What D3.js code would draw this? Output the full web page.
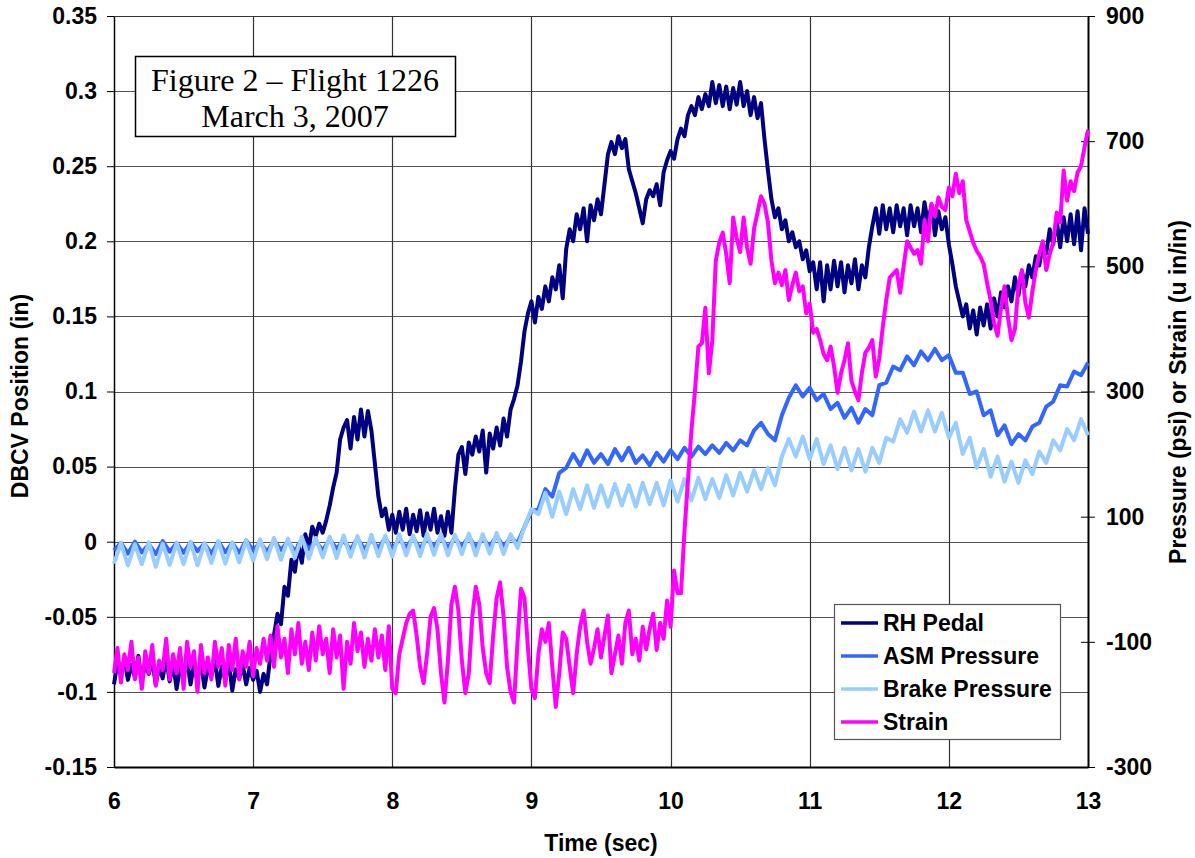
<!DOCTYPE html>
<html lang="en">
<head>
<meta charset="UTF-8">
<title>Figure 2 - Flight 1226</title>
<script src="https://d3js.org/d3.v7.min.js"></script>
<style>
body { margin: 0; background: #fff; }
.axis text { font-family: "Liberation Sans", Arial, sans-serif; font-weight: bold; font-size: 23px; fill: #000; }
.axis path, .axis line { stroke: #000; }
.label { font-family: "Liberation Sans", Arial, sans-serif; font-weight: bold; font-size: 23px; fill: #000; }
</style>
</head>
<body>
<div id="chart"></div>
<script>
// time axis 6..13 s; every series below is sampled evenly over that span
var timeTicks = [6, 7, 8, 9, 10, 11, 12, 13];
var leftTicks = [-0.15, -0.1, -0.05, 0, 0.05, 0.1, 0.15, 0.2, 0.25, 0.3, 0.35];
var rightTicks = [-300, -100, 100, 300, 500, 700, 900];

// RH Pedal, DBCV position (in), left axis
var rhPedal = [
  -0.095,-0.080,-0.088,-0.078,-0.092,-0.082,-0.090,-0.076,-0.094,-0.080,
  -0.088,-0.079,-0.095,-0.083,-0.091,-0.077,-0.093,-0.081,-0.098,-0.084,
  -0.090,-0.078,-0.095,-0.082,-0.091,-0.080,-0.097,-0.084,-0.089,-0.079,
  -0.096,-0.083,-0.092,-0.080,-0.099,-0.085,-0.091,-0.082,-0.095,-0.084,
  -0.092,-0.086,-0.100,-0.088,-0.095,
  -0.075,-0.062,-0.048,-0.055,-0.030,-0.036,-0.012,-0.020,-0.002,-0.014,
  0.005,-0.004,0.010,0.004,0.012,0.006,0.014,0.024,0.036,0.046,
  0.068,0.076,0.081,0.062,0.083,0.068,0.088,0.070,0.087,0.074,
  0.052,0.030,0.017,0.022,0.008,0.018,
  0.006,0.020,0.008,0.022,0.005,0.018,0.007,0.021,0.004,0.019,
  0.008,0.022,0.006,0.017,0.004,0.020,0.006,
  0.035,0.058,0.063,0.045,0.066,0.058,0.070,0.060,0.074,0.046,
  0.072,0.062,0.076,0.064,0.082,0.070,0.088,0.095,0.104,0.120,
  0.140,0.152,0.160,0.146,0.163,0.155,0.170,0.160,0.176,0.168,
  0.184,0.162,0.195,0.208,0.200,0.218,0.208,0.222,0.200,0.224,
  0.214,0.228,0.218,0.238,0.258,0.266,0.258,0.270,0.262,0.268,
  0.248,0.240,0.232,0.222,0.212,0.228,0.234,0.230,0.238,0.224,
  0.246,0.254,0.260,0.255,0.268,0.275,0.270,0.284,0.290,0.284,
  0.296,0.288,0.298,0.290,0.306,0.292,0.304,0.290,0.303,0.288,
  0.302,0.291,0.306,0.290,0.300,0.284,0.296,0.282,0.292,0.268,
  0.247,0.228,0.216,0.222,0.208,0.214,0.200,0.206,0.196,0.200,
  0.188,0.194,0.180,0.186,0.168,0.186,0.160,0.184,0.168,0.187,
  0.170,0.186,0.166,0.184,0.172,0.188,0.168,0.184,0.176,0.196,
  0.210,0.222,0.205,0.224,0.208,0.222,0.206,0.224,0.210,0.222,
  0.204,0.224,0.210,0.222,0.206,0.226,0.212,0.224,0.204,0.220,
  0.208,0.216,0.198,0.185,0.170,0.160,0.150,0.158,0.142,0.154,
  0.138,0.156,0.144,0.158,0.142,0.162,0.150,0.166,0.156,0.170,
  0.160,0.176,0.164,0.180,0.170,0.184,0.176,0.190,0.184,0.198,
  0.192,0.208,0.198,0.214,0.196,0.216,0.200,0.218,0.198,0.220,
  0.194,0.222,0.205
];

// ASM Pressure (psi), right axis
var asmPressure = [
  46,58,41,60,43,56,40,61,44,58,
  42,59,45,57,41,60,43,58,42,62,
  46,59,44,62,47,60,45,63,48,61,
  46,64,49,62,47,65,48,63,50,66,
  48,64,51,66,49,65,52,67,50,66,
  52,68,51,65,53,69,52,67,58,
  84,108,112,144,132,170,178,200,182,206,
  186,200,184,208,190,210,186,198,182,202,
  188,206,192,210,196,212,200,214,202,218,
  206,222,214,238,250,232,222,262,290,310,
  292,306,286,296,272,282,258,274,250,272,
  262,310,314,340,334,356,342,364,350,368,
  350,358,330,330,296,300,262,270,230,246,
  216,232,222,244,250,276,284,310,308,332,
  326,346
];

// Brake Pressure (psi), right axis
var brakePressure = [
  25,58,22,56,24,59,20,57,23,58,
  24,60,22,58,26,61,25,59,27,62,
  30,64,32,66,31,65,34,68,33,66,
  35,68,34,70,36,69,35,71,37,70,
  36,72,38,70,37,73,39,72,38,71,
  40,73,38,72,41,74,40,72,50,
  84,112,104,138,100,140,104,144,112,150,
  114,150,116,152,118,150,116,154,120,154,
  118,158,124,160,126,162,128,160,130,166,
  134,170,140,174,144,178,150,196,224,196,
  228,192,224,184,214,176,210,174,208,172,
  210,186,226,220,256,234,268,236,270,236,
  266,226,250,200,226,178,208,164,196,156,
  188,154,190,168,204,186,222,206,240,222,
  256,230
];

// Strain (u in/in), right axis
var strain = [
  -150,-110,-165,-120,-145,-100,-160,-125,-175,-115,
  -150,-105,-170,-130,-145,-95,-160,-120,-150,-110,
  -175,-100,-140,-115,-180,-105,-150,-125,-160,-100,
  -140,-110,-170,-105,-145,-95,-160,-115,-140,-100,
  -155,-110,-135,-95,-130,
  -90,-140,-75,-125,-95,-150,-80,-120,-70,-135,
  -100,-145,-85,-130,-75,-120,-95,-150,-80,-125,
  -90,-175,-100,-135,-70,-115,-85,-140,-95,-130,
  -80,-125,-90,-145,-75,
  -175,-182,-120,-95,-70,-55,-50,-90,-140,-166,
  -120,-60,-46,-80,-150,-197,-130,-40,-12,-50,
  -130,-182,-150,-60,-12,-40,-110,-150,-166,-90,
  -30,-5,-60,-140,-180,-197,-100,-15,-30,-110,
  -175,-190,-120,-80,-100,-70,-140,-204,-150,
  -85,-95,-140,-182,-120,-75,-50,-100,-135,-110,
  -80,-125,-90,-58,-150,-120,-90,-135,-70,-50,
  -120,-95,-130,-76,-112,-79,-55,-113,-70,-95,
  -34,-76,14,-22,-22,77,158,238,300,372,
  377,434,329,382,509,538,554,520,473,578,
  545,523,578,530,504,560,586,612,600,570,
  509,473,490,470,494,446,470,490,460,468,
  425,440,394,400,382,360,350,372,340,298,
  329,350,377,317,300,286,330,362,370,382,
  324,353,403,446,482,488,494,458,500,540,
  530,520,526,504,574,540,600,580,610,595,
  590,626,612,648,617,636,574,556,538,525,
  516,504,473,446,410,389,434,468,418,382,
  400,470,494,442,418,460,494,520,540,494,
  520,538,586,570,653,605,636,620,650,660,
  690,718
];

var seriesNames = ["RH Pedal", "ASM Pressure", "Brake Pressure", "Strain"];
var seriesColors = ["#000080", "#3366ff", "#99ccff", "#ff00ff"];

var W = 1195, H = 858;
var plot = {left: 114, right: 1088, top: 16, bottom: 767};

var svg = d3.select("#chart").append("svg")
  .attr("width", W).attr("height", H);

var x = d3.scaleLinear().domain([6, 13]).range([plot.left, plot.right]);
var yL = d3.scaleLinear().domain([-0.15, 0.35]).range([plot.bottom, plot.top]);
var yR = d3.scaleLinear().domain([-300, 900]).range([plot.bottom, plot.top]);

// gridlines
svg.append("g").selectAll("line").data(leftTicks).enter().append("line")
  .attr("x1", plot.left).attr("x2", plot.right)
  .attr("y1", function(d) { return Math.round(yL(d)) + 0.5; })
  .attr("y2", function(d) { return Math.round(yL(d)) + 0.5; })
  .style("stroke", "#555").style("stroke-width", 1.2);
svg.append("g").selectAll("line").data(timeTicks.slice(1, -1)).enter().append("line")
  .attr("x1", function(d) { return Math.round(x(d)) + 0.5; })
  .attr("x2", function(d) { return Math.round(x(d)) + 0.5; })
  .attr("y1", plot.top).attr("y2", plot.bottom)
  .style("stroke", "#333").style("stroke-width", 1.2);

// axes
var fmtNum = function(d) { return String(+d.toFixed(2)); };
var leftAxis = svg.append("g").attr("class", "axis")
  .attr("transform", "translate(" + plot.left + ",0)")
  .call(d3.axisLeft(yL).tickValues(leftTicks).tickFormat(fmtNum).tickSizeInner(7).tickSizeOuter(0).tickPadding(10));
leftAxis.select(".domain").style("stroke-width", 1.5);

var rightAxis = svg.append("g").attr("class", "axis")
  .attr("transform", "translate(" + plot.right + ",0)")
  .call(d3.axisRight(yR).tickValues(rightTicks).tickFormat(fmtNum).tickSizeInner(7).tickSizeOuter(0).tickPadding(11));
rightAxis.selectAll(".tick line").attr("x1", function(d) { return d === -300 ? 0 : -7; });
rightAxis.select(".domain").style("stroke-width", 2);

var bottomAxis = svg.append("g").attr("class", "axis")
  .attr("transform", "translate(0," + plot.bottom + ")")
  .call(d3.axisBottom(x).tickValues(timeTicks).tickFormat(fmtNum).tickSize(0).tickPadding(26));
bottomAxis.select(".domain").style("stroke-width", 2);

// top border of plot area
svg.append("line")
  .attr("x1", plot.left).attr("x2", plot.right)
  .attr("y1", plot.top + 0.5).attr("y2", plot.top + 0.5)
  .style("stroke", "#333").style("stroke-width", 1.2);

// axis titles
svg.append("text").attr("class", "label")
  .attr("x", 601).attr("y", 851)
  .style("text-anchor", "middle").text("Time (sec)");
svg.append("text").attr("class", "label")
  .attr("transform", "translate(28,396) rotate(-90)")
  .style("text-anchor", "middle").text("DBCV Position (in)");
svg.append("text").attr("class", "label")
  .attr("transform", "translate(1186,392) rotate(-90)")
  .style("text-anchor", "middle").text("Pressure (psi) or Strain (u in/in)");

// series
function timeAt(values, i) { return 6 + i * 7 / (values.length - 1); }
function drawSeries(values, yScale, color) {
  var line = d3.line()
    .x(function(d, i) { return x(timeAt(values, i)); })
    .y(function(d) { return yScale(d); });
  svg.append("path").datum(values)
    .attr("d", line)
    .style("fill", "none")
    .style("stroke", color)
    .style("stroke-width", 4)
    .style("stroke-linejoin", "round");
}
drawSeries(rhPedal, yL, seriesColors[0]);
drawSeries(asmPressure, yR, seriesColors[1]);
drawSeries(brakePressure, yR, seriesColors[2]);
drawSeries(strain, yR, seriesColors[3]);

// title box
svg.append("rect").attr("x", 135.5).attr("y", 56.5).attr("width", 320).attr("height", 80)
  .style("fill", "#fff").style("stroke", "#000").style("stroke-width", 1.5);
svg.append("text").attr("x", 295).attr("y", 91)
  .style("font-family", "'Liberation Serif', 'Times New Roman', serif").style("font-size", "32px")
  .style("text-anchor", "middle").text("Figure 2 \u2013 Flight 1226");
svg.append("text").attr("x", 295).attr("y", 127)
  .style("font-family", "'Liberation Serif', 'Times New Roman', serif").style("font-size", "32px")
  .style("text-anchor", "middle").text("March 3, 2007");

// legend
var legend = svg.append("g");
legend.append("rect").attr("x", 834.5).attr("y", 604.5).attr("width", 226).attr("height", 135)
  .style("fill", "#fff").style("stroke", "#555").style("stroke-width", 1.2);
var items = legend.selectAll("g.item").data(seriesNames).enter().append("g")
  .attr("transform", function(d, i) { return "translate(0," + (623 + i * 33) + ")"; });
items.append("line")
  .attr("x1", 841).attr("x2", 878).attr("y1", 0).attr("y2", 0)
  .style("stroke", function(d, i) { return seriesColors[i]; })
  .style("stroke-width", 3.5);
items.append("text").attr("class", "label")
  .attr("x", 883).attr("y", 8)
  .text(function(d) { return d; });
</script>
</body>
</html>
